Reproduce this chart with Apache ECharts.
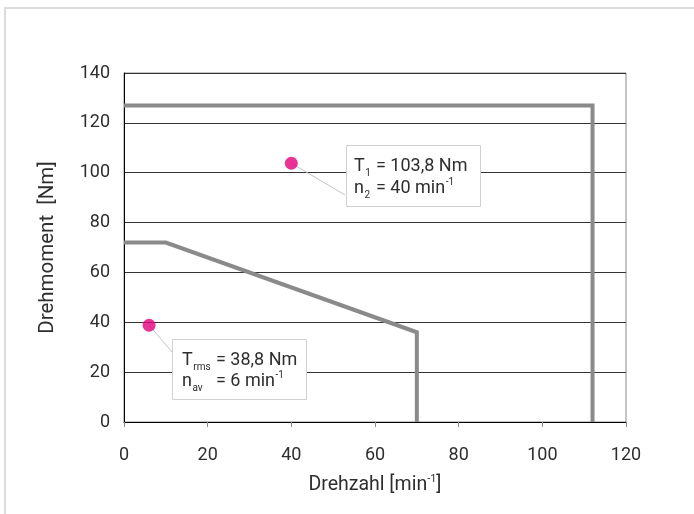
<!DOCTYPE html>
<html>
<head>
<meta charset="utf-8">
<script src="https://cdn.jsdelivr.net/npm/echarts@6/dist/echarts.min.js"></script>
<style>
  html, body { margin: 0; padding: 0; background: #fff; }
  #chart { width: 694px; height: 514px; }
</style>
</head>
<body>
<div id="chart"></div>
<script>
// Torque / speed characteristic of the drive
const speedRange = [0, 120];          // min^-1
const torqueRange = [0, 140];         // Nm
const tickStep = 20;

// Maximum torque envelope: [speed, torque]
const maxTorqueCurve = [[0, 127], [112, 127], [112, 0]];
// Continuous (rated) torque envelope
const ratedTorqueCurve = [[0, 72], [10, 72], [70, 36], [70, 0]];

// Operating points
const peakPoint = [40, 103.8];        // T1 / n2
const rmsPoint = [6, 38.8];           // Trms / nav

const xAxisTitle = 'Drehzahl [min{sup|-1}]';
const yAxisTitle = 'Drehmoment  [Nm]';

const FONT = 'Roboto, "DejaVu Sans", sans-serif';
const TEXT_COLOR = '#2e2e2e';
const CURVE_COLOR = '#8a8a8a';
const POINT_COLOR = '#e4007c';
const NOTE_SIZE = 18;
const NOTE_SUB_SIZE = 10;

const chart = echarts.init(document.getElementById('chart'), null, { renderer: 'canvas' });

const option = {
  animation: false,
  backgroundColor: '#ffffff',
  textStyle: { fontFamily: FONT },
  grid: {
    left: 124, right: 68, top: 73, bottom: 92,
    show: true, borderColor: '#8a8a8a', borderWidth: 1, backgroundColor: 'transparent'
  },
  xAxis: {
    type: 'value',
    min: speedRange[0], max: speedRange[1], interval: tickStep,
    name: xAxisTitle,
    nameLocation: 'middle',
    nameGap: 52,
    nameTextStyle: {
      fontFamily: FONT, fontSize: 19.5, color: TEXT_COLOR, lineHeight: 22,
      rich: {
        sup: { fontFamily: FONT, fontSize: 11, color: TEXT_COLOR, verticalAlign: 'top', lineHeight: 22, padding: [0, 0, 7, 0] }
      }
    },
    axisLine: { show: true, lineStyle: { color: '#000', width: 1 } },
    axisTick: { show: true, inside: false, length: 5, lineStyle: { color: '#8a8a8a', width: 1 } },
    axisLabel: { margin: 24, fontFamily: FONT, fontSize: 18, color: TEXT_COLOR },
    splitLine: { show: false }
  },
  yAxis: {
    type: 'value',
    min: torqueRange[0], max: torqueRange[1], interval: tickStep,
    name: yAxisTitle,
    nameLocation: 'middle',
    nameGap: 66,
    nameRotate: 90,
    nameTextStyle: { fontFamily: FONT, fontSize: 20.5, color: TEXT_COLOR },
    axisLine: { show: true, lineStyle: { color: '#000', width: 1 } },
    axisTick: { show: false },
    axisLabel: { margin: 14, fontFamily: FONT, fontSize: 18, color: TEXT_COLOR },
    splitLine: { show: true, lineStyle: { color: '#333', width: 1 } }
  },
  series: [
    {
      name: 'max',
      type: 'line',
      data: maxTorqueCurve,
      symbol: 'none',
      lineStyle: { color: CURVE_COLOR, width: 4, cap: 'butt', join: 'miter' },
      z: 3
    },
    {
      name: 'rated',
      type: 'line',
      data: ratedTorqueCurve,
      symbol: 'none',
      lineStyle: { color: CURVE_COLOR, width: 4, cap: 'butt', join: 'miter' },
      z: 3
    },
    {
      name: 'points',
      type: 'scatter',
      data: [peakPoint, rmsPoint],
      symbol: 'circle',
      symbolSize: 13,
      itemStyle: { color: POINT_COLOR },
      z: 5
    }
  ]
};

chart.setOption(option);

// Text measuring for placing sub/superscripts next to their base text
const measureCtx = document.createElement('canvas').getContext('2d');
function textWidth(text, size) {
  measureCtx.font = size + 'px ' + FONT;
  return measureCtx.measureText(text).width;
}

function textEl(x, y, text, size) {
  return {
    type: 'text', x: x, y: y, silent: true,
    style: {
      text: text, fill: TEXT_COLOR,
      font: size + 'px ' + FONT,
      textAlign: 'left', textVerticalAlign: 'middle'
    }
  };
}

// Annotation boxes with leader lines, anchored at the operating points
function annotation(id, point, box, leaderEnd, lines) {
  const p = chart.convertToPixel({ gridIndex: 0 }, point);
  const children = [
    {
      type: 'line', silent: true,
      shape: { x1: 0, y1: 0, x2: leaderEnd[0], y2: leaderEnd[1] },
      style: { stroke: '#c4c4c4', lineWidth: 1 }
    },
    {
      type: 'rect', silent: true,
      shape: { x: box[0] + 0.5, y: box[1] + 0.5, width: box[2], height: box[3] },
      style: { fill: '#fff', stroke: '#d0d0d0', lineWidth: 1 }
    }
  ];
  lines.forEach(function (ln) {
    const bx = box[0] + ln.x0;
    const by = box[1] + ln.y;
    children.push(textEl(bx, by, ln.main, NOTE_SIZE));
    children.push(textEl(bx + textWidth(ln.main, NOTE_SIZE) + 0.5, by + 7, ln.sub, NOTE_SUB_SIZE));
    const rx = box[0] + ln.x1;
    children.push(textEl(rx, by, ln.rest, NOTE_SIZE));
    if (ln.sup) {
      children.push(textEl(rx + textWidth(ln.rest, NOTE_SIZE) + 0.5, by - 6, ln.sup, NOTE_SUB_SIZE));
    }
  });
  return { id: id, type: 'group', x: Math.round(p[0]), y: Math.round(p[1]), z: 1, children: children };
}

const peakLines = [
  { main: 'T', sub: '1', rest: '= 103,8 Nm', y: 21, x0: 8, x1: 30 },
  { main: 'n', sub: '2', rest: '= 40 min', y: 43, x0: 8, x1: 30, sup: '-1' }
];
const rmsLines = [
  { main: 'T', sub: 'rms', rest: '= 38,8 Nm', y: 21, x0: 10, x1: 44 },
  { main: 'n', sub: 'av', rest: '= 6 min', y: 42, x0: 10, x1: 44, sup: '-1' }
];

chart.setOption({
  graphic: [
    {
      id: 'frame', type: 'rect', silent: true, z: 0,
      shape: { x: 5, y: 8, width: 720, height: 540 },
      style: { fill: 'none', stroke: '#dcdcdc', lineWidth: 2 }
    },
    annotation('peakNote', peakPoint, [55, -18, 134, 61], [54, 32], peakLines),
    annotation('rmsNote', rmsPoint, [23, 14, 134, 60], [23, 27], rmsLines)
  ]
});
</script>
</body>
</html>
